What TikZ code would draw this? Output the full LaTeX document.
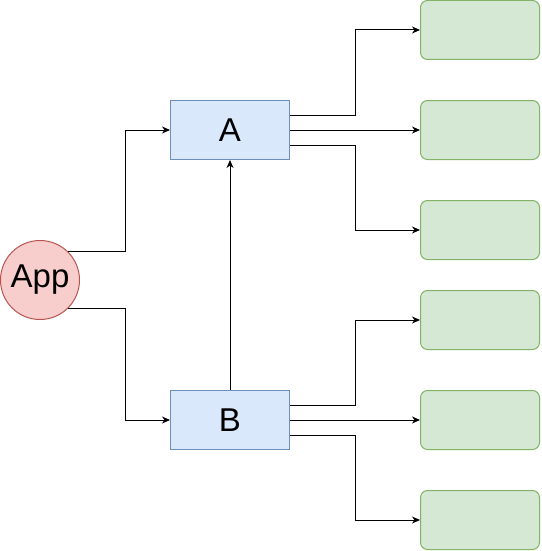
\documentclass[tikz,border=0pt]{standalone}
\usepackage{fontspec}
\setmainfont{Liberation Sans}
\usepackage{xcolor}
\usepackage{tikz}
\usetikzlibrary{positioning}
\usetikzlibrary{arrows.meta}
\definecolor{appfill}{HTML}{F8CECC}
\definecolor{appline}{HTML}{B85450}
\definecolor{boxfill}{HTML}{DAE8FC}
\definecolor{boxline}{HTML}{6C8EBF}
\definecolor{outfill}{HTML}{D5E8D4}
\definecolor{outline}{HTML}{82B366}

\begin{document}
\begin{tikzpicture}[x=1pt,y=-1pt,
        appnode/.style={circle, draw=appline, fill=appfill, line width=1pt,
            minimum size=79pt, inner sep=0pt, font=\fontsize{33}{38}\selectfont},
        procbox/.style={rectangle, draw=boxline, fill=boxfill, line width=1pt,
            minimum width=119pt, minimum height=59pt, inner sep=0pt,
            font=\fontsize{33}{38}\selectfont},
        outbox/.style={rectangle, rounded corners=7pt, draw=outline, fill=outfill,
            line width=1pt, minimum width=119pt, minimum height=59pt},
        link/.style={draw, line width=1pt, -{Stealth[length=8pt,width=7pt,inset=2.5pt]}}]
    \useasboundingbox (0,0) rectangle (541,551);
    % sources
    \node[appnode] (app) at (40,280) {App};
    \node[procbox] (a) at (230,130) {A};
    \node[procbox] (b) at (230,420) {B};
    % targets
    \node[outbox] (g1) at (480,30) {};
    \node[outbox] (g2) at (480,130) {};
    \node[outbox] (g3) at (480,230) {};
    \node[outbox] (g4) at (480,320) {};
    \node[outbox] (g5) at (480,420) {};
    \node[outbox] (g6) at (480,520) {};
    % edges
    \draw[link] (app.45) -- ++(57,0) |- (a.west);
    \draw[link] (app.-45) -- ++(57,0) |- (b.west);
    \draw[link] (b.north) -- (a.south);
    \draw[link] ([yshift=15pt]a.east) -- ++(65,0) |- (g1.west);
    \draw[link] (a.east) -- (g2.west);
    \draw[link] ([yshift=-15pt]a.east) -- ++(65,0) |- (g3.west);
    \draw[link] ([yshift=15pt]b.east) -- ++(65,0) |- (g4.west);
    \draw[link] (b.east) -- (g5.west);
    \draw[link] ([yshift=-15pt]b.east) -- ++(65,0) |- (g6.west);
\end{tikzpicture}
\end{document}
